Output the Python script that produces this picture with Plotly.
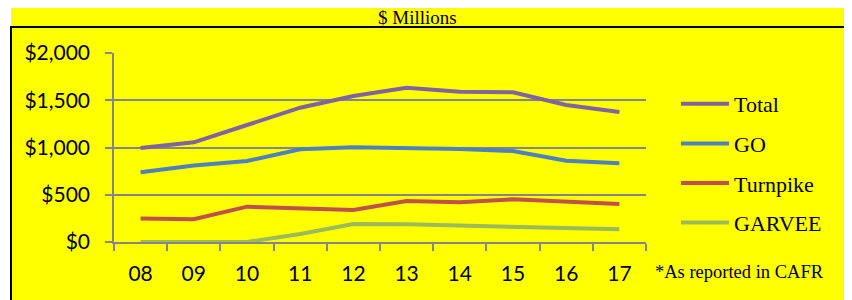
import plotly.graph_objects as go

years = ["08", "09", "10", "11", "12", "13", "14", "15", "16", "17"]
total = [995, 1055, 1238, 1421, 1545, 1633, 1591, 1584, 1450, 1375]
go_bonds = [737, 810, 857, 981, 1002, 995, 984, 963, 861, 833]
turnpike = [250, 240, 374, 356, 339, 434, 420, 452, 430, 402]
garvee = [0, 0, 0, 85, 190, 187, 173, 159, 148, 134]

series_names = ["Total", "GO", "Turnpike", "GARVEE"]
series_values = [total, go_bonds, turnpike, garvee]
series_colors = ["#8064A2", "#4F81BD", "#C0504D", "#9BBB59"]

y_ticks = [0, 500, 1000, 1500, 2000]
y_tick_labels = ["$0", "$500", "$1,000", "$1,500", "$2,000"]

# page offset from default body margin
OFF = 8
PAGE_W, PAGE_H = 852, 300
W, H = PAGE_W - OFF, PAGE_H - OFF
# plot area in page pixel coordinates
L, R, T, B = 114, 646, 53, 242
pw, ph = R - L, B - T


def px(x):
    return (x - L) / pw


def py(y):
    return (B - y) / ph


fig = go.Figure()
for i, (name, vals, col) in enumerate(zip(series_names, series_values, series_colors)):
    fig.add_trace(go.Scatter(
        x=years, y=vals, name=name, mode="lines",
        line=dict(color=col, width=4), legendgroup=str(i),
    ))

yellow = "#FFFF00"
fig.update_layout(
    width=W, height=H,
    margin=dict(l=L - OFF, r=PAGE_W - R, t=T - OFF, b=PAGE_H - B),
    paper_bgcolor=yellow, plot_bgcolor=yellow,
    showlegend=True,
    legend=dict(
        x=px(676), y=py(83), xanchor="left", yanchor="top",
        font=dict(family="Liberation Serif", size=22, color="black"),
        bgcolor="rgba(0,0,0,0)", tracegroupgap=8, itemwidth=48,
        traceorder="grouped",
    ),
    xaxis=dict(
        type="category", range=[-0.5, 9.5], tickson="boundaries",
        ticks="outside", ticklen=7, tickcolor="#868686", tickwidth=1.5,
        showline=True, linecolor="#868686", linewidth=1.5,
        showgrid=False, zeroline=False, ticklabelstandoff=12,
        tickfont=dict(family="Lato", size=21, color="black"),
    ),
    yaxis=dict(
        range=[0, 2000], tickvals=y_ticks, ticktext=y_tick_labels,
        ticks="outside", ticklen=7, tickcolor="#868686", tickwidth=1.5,
        showline=True, linecolor="#868686", linewidth=1.5,
        showgrid=True, gridcolor="#868686", gridwidth=1.5, zeroline=False,
        ticklabelstandoff=11,
        tickfont=dict(family="Lato", size=21, color="black"),
    ),
    shapes=[
        dict(type="rect", xref="paper", yref="paper", x0=px(OFF - 1), x1=px(11),
             y0=py(OFF - 1), y1=py(PAGE_H + 2), fillcolor="white", line_width=0, layer="below"),
        dict(type="line", xref="paper", yref="paper", x0=px(11), x1=px(11),
             y0=py(27), y1=py(PAGE_H + 2), line=dict(color="black", width=2)),
        dict(type="line", xref="paper", yref="paper", x0=px(10), x1=px(PAGE_W + 2),
             y0=py(27), y1=py(27), line=dict(color="black", width=2)),
    ],
    annotations=[
        dict(text="$ Millions", xref="paper", yref="paper", x=px(417), y=py(17),
             xanchor="center", yanchor="middle", showarrow=False,
             font=dict(family="Liberation Serif", size=19, color="black")),
        dict(text="*As reported in CAFR", xref="paper", yref="paper", x=px(653), y=py(272),
             xanchor="left", yanchor="middle", showarrow=False,
             font=dict(family="Liberation Serif", size=18.5, color="black")),
    ],
)

fig.write_html("out.html")
